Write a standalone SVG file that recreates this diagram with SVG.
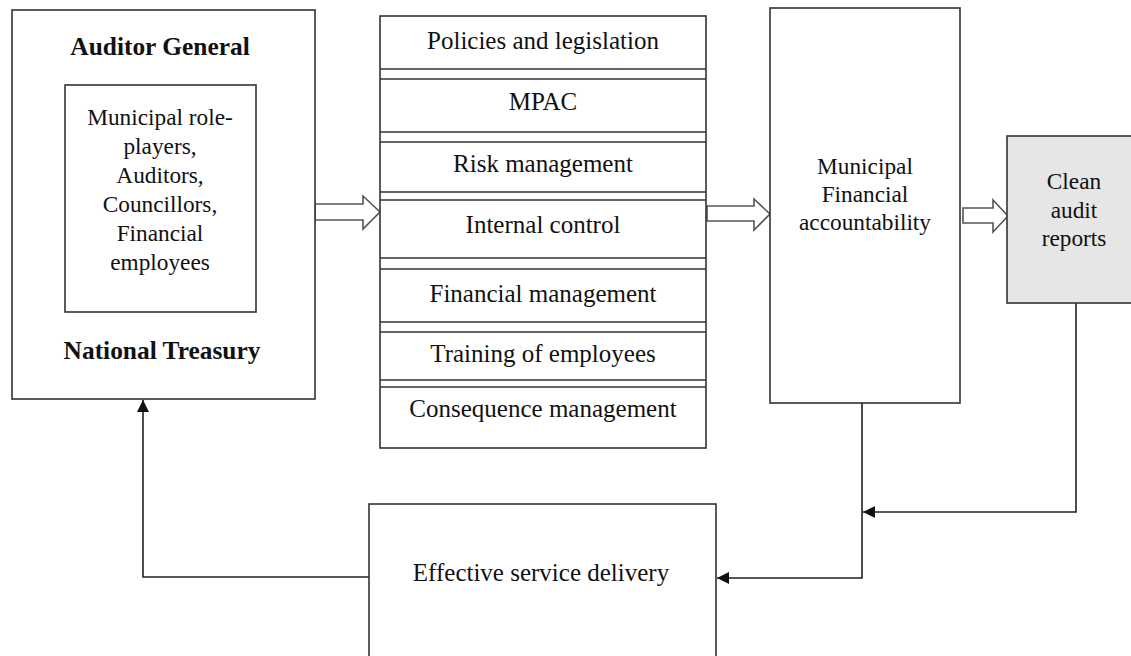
<svg xmlns="http://www.w3.org/2000/svg" width="1131" height="656" viewBox="0 0 1131 656">
<style>
.box{fill:#fff;stroke:#333;stroke-width:1.6}
.gray{fill:#e6e6e6;stroke:#333;stroke-width:1.6}
.sep{stroke:#333;stroke-width:1.6}
.blk{fill:#fff;stroke:#555;stroke-width:1.6;stroke-linejoin:miter}
.t{fill:#111;text-anchor:middle}
.w{font-size:25px}
.n{font-size:23.3px}
.b{font-size:25.4px;font-weight:bold}
.ln{fill:none;stroke:#222;stroke-width:1.6}
</style>
<defs>
<marker id="ah" markerUnits="userSpaceOnUse" markerWidth="14" markerHeight="12" refX="12" refY="6" orient="auto">
<path d="M0,0 L12,6 L0,12 Z" fill="#111"/>
</marker>
</defs>
<rect width="1131" height="656" fill="#fff"/>

<g id="connectors">
<polygon class="blk" points="315,204 363,204 363,196 380,212 363,229 363,220 315,220"/>
<polygon class="blk" points="707,206 754,206 754,199 770,214 754,230 754,221 707,221"/>
<polygon class="blk" points="963,208 993,208 993,200 1008,216 993,232 993,223 963,223"/>
<path class="ln" d="M862,403 L862,578 L717,578" marker-end="url(#ah)"/>
<path class="ln" d="M1076,303 L1076,512 L863,512" marker-end="url(#ah)"/>
<path class="ln" d="M369,577 L143,577 L143,400" marker-end="url(#ah)"/>
</g>

<g id="auditor-general">
<rect class="box" x="12" y="10" width="303" height="389"/>
<text class="t b" x="160" y="55" font-family="'Liberation Serif', serif">Auditor General</text>
<text class="t b" x="162" y="359" font-family="'Liberation Serif', serif">National Treasury</text>
</g>

<g id="role-players">
<rect class="box" x="65" y="85" width="191" height="227"/>
<text class="t n" x="160" y="125" font-family="'Liberation Serif', serif">Municipal role-</text>
<text class="t n" x="160" y="154" font-family="'Liberation Serif', serif">players,</text>
<text class="t n" x="160" y="183" font-family="'Liberation Serif', serif">Auditors,</text>
<text class="t n" x="160" y="212" font-family="'Liberation Serif', serif">Councillors,</text>
<text class="t n" x="160" y="241" font-family="'Liberation Serif', serif">Financial</text>
<text class="t n" x="160" y="270" font-family="'Liberation Serif', serif">employees</text>
</g>

<g id="factors">
<rect class="box" x="380" y="16" width="326" height="432"/>
<line class="sep" x1="380" y1="69" x2="706" y2="69"/>
<line class="sep" x1="380" y1="79" x2="706" y2="79"/>
<line class="sep" x1="380" y1="132" x2="706" y2="132"/>
<line class="sep" x1="380" y1="142" x2="706" y2="142"/>
<line class="sep" x1="380" y1="192" x2="706" y2="192"/>
<line class="sep" x1="380" y1="200" x2="706" y2="200"/>
<line class="sep" x1="380" y1="258" x2="706" y2="258"/>
<line class="sep" x1="380" y1="269" x2="706" y2="269"/>
<line class="sep" x1="380" y1="322" x2="706" y2="322"/>
<line class="sep" x1="380" y1="332" x2="706" y2="332"/>
<line class="sep" x1="380" y1="380" x2="706" y2="380"/>
<line class="sep" x1="380" y1="387" x2="706" y2="387"/>
<text class="t w" x="543" y="49" font-family="'Liberation Serif', serif">Policies and legislation</text>
<text class="t w" x="543" y="110" font-family="'Liberation Serif', serif">MPAC</text>
<text class="t w" x="543" y="172" font-family="'Liberation Serif', serif">Risk management</text>
<text class="t w" x="543" y="233" font-family="'Liberation Serif', serif">Internal control</text>
<text class="t w" x="543" y="302" font-family="'Liberation Serif', serif">Financial management</text>
<text class="t w" x="543" y="362" font-family="'Liberation Serif', serif">Training of employees</text>
<text class="t w" x="543" y="417" font-family="'Liberation Serif', serif">Consequence management</text>
</g>

<g id="accountability">
<rect class="box" x="770" y="8" width="190" height="395"/>
<text class="t n" x="865" y="174" font-family="'Liberation Serif', serif">Municipal</text>
<text class="t n" x="865" y="202" font-family="'Liberation Serif', serif">Financial</text>
<text class="t n" x="865" y="230" font-family="'Liberation Serif', serif">accountability</text>
</g>

<g id="clean-audit">
<rect class="gray" x="1007" y="136" width="130" height="167"/>
<text class="t n" x="1074" y="189" font-family="'Liberation Serif', serif">Clean</text>
<text class="t n" x="1074" y="218" font-family="'Liberation Serif', serif">audit</text>
<text class="t n" x="1074" y="246" font-family="'Liberation Serif', serif">reports</text>
</g>

<g id="service-delivery">
<rect class="box" x="369" y="504" width="347" height="160"/>
<text class="t w" x="541" y="581" font-family="'Liberation Serif', serif">Effective service delivery</text>
</g>
</svg>
